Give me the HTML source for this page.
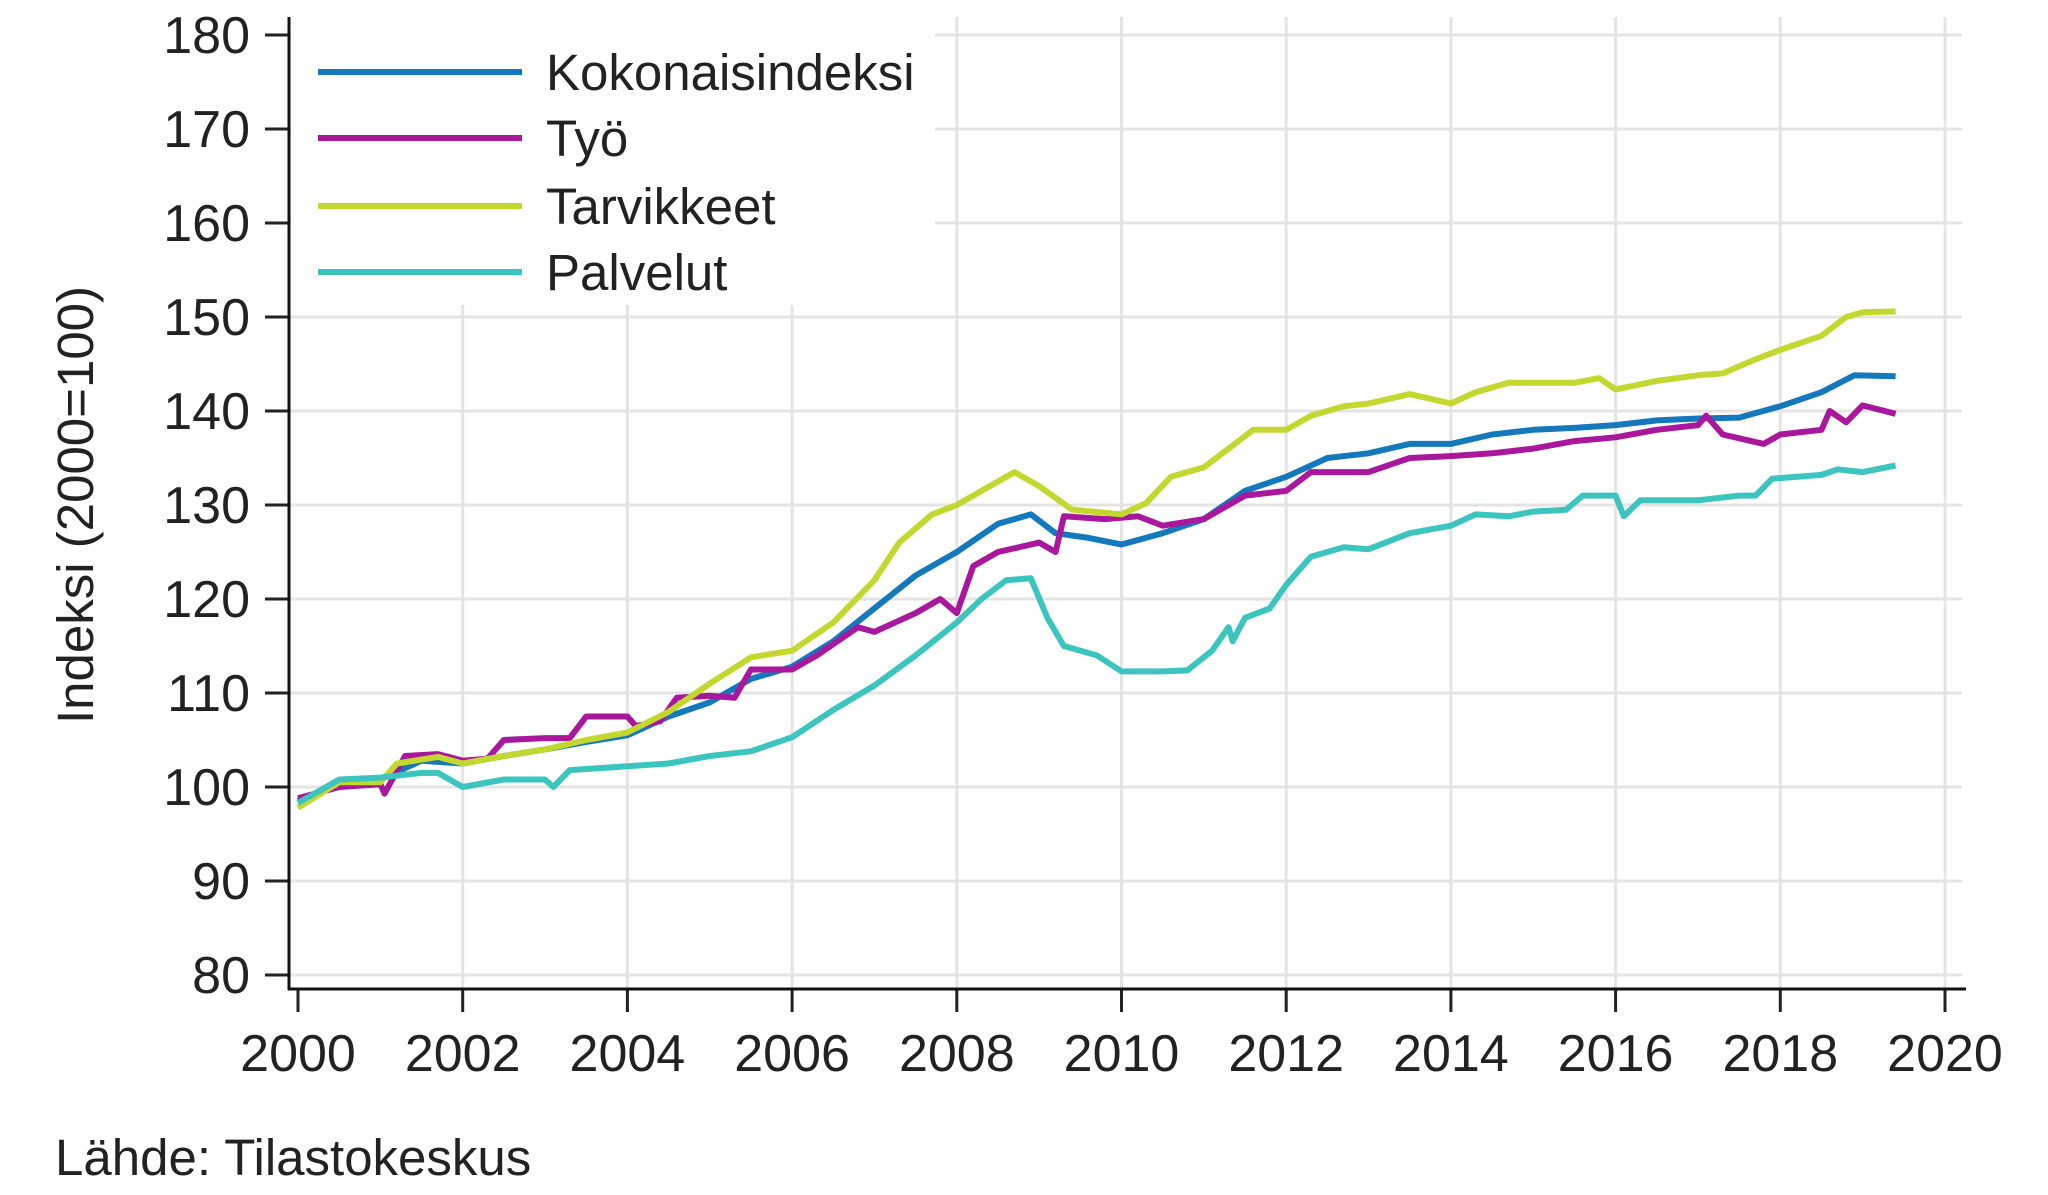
<!DOCTYPE html>
<html><head><meta charset="utf-8"><style>
html,body{margin:0;padding:0;background:#fff;}
svg{display:block;font-family:"Liberation Sans",sans-serif;}
</style></head><body>
<svg id="chart" width="2048" height="1195" viewBox="0 0 2048 1195">
<g id="grid"></g>
<g id="series"></g>
<g id="axes"></g>
<g id="legend"></g>
<text x="0" y="0" transform="translate(93,505) rotate(-90)" text-anchor="middle" font-size="51" fill="#222">Indeksi (2000=100)</text>
<text x="55" y="1175" font-size="51" fill="#222">Lähde: Tilastokeskus</text>
</svg>
<script>
const yTicks=[80,90,100,110,120,130,140,150,160,170,180];
const xTicks=[2000,2002,2004,2006,2008,2010,2012,2014,2016,2018,2020];
const seriesNames=["Kokonaisindeksi","Työ","Tarvikkeet","Palvelut"];
const seriesColors=["#1478bd","#a8179c","#c2d82e","#3cc4bf"];
const kokT=[2000,2000.5,2001,2001.5,2002,2002.5,2003,2003.5,2004,2004.5,2005,2005.5,2006,2006.5,2007,2007.5,2008,2008.5,2008.9,2009.2,2009.6,2010,2010.5,2011,2011.5,2012,2012.5,2013,2013.5,2014,2014.5,2015,2015.5,2016,2016.5,2017,2017.5,2018,2018.5,2018.9,2019.4];
const kokV=[98.5,100.3,100.8,102.8,102.5,103.3,104,104.8,105.5,107.5,109,111.5,112.8,115.5,119,122.5,125,128,129,127,126.5,125.8,127,128.5,131.5,133,135,135.5,136.5,136.5,137.5,138,138.2,138.5,139,139.2,139.3,140.5,142,143.8,143.7];
const tyoT=[2000,2000.5,2001,2001.05,2001.3,2001.7,2002,2002.3,2002.5,2003,2003.3,2003.5,2004,2004.1,2004.4,2004.6,2005,2005.3,2005.5,2006,2006.3,2006.8,2007,2007.5,2007.8,2008,2008.2,2008.5,2009,2009.2,2009.3,2009.8,2010.2,2010.5,2011,2011.5,2012,2012.3,2013,2013.5,2014,2014.5,2015,2015.5,2016,2016.5,2017,2017.1,2017.3,2017.8,2018,2018.5,2018.6,2018.8,2019,2019.4];
const tyoV=[98.8,100,100.3,99.3,103.3,103.5,102.8,103,105,105.2,105.2,107.5,107.5,106.5,107,109.5,109.7,109.5,112.5,112.5,114,117,116.5,118.5,120,118.5,123.5,125,126,125,128.8,128.5,128.8,127.8,128.5,131,131.5,133.5,133.5,135,135.2,135.5,136,136.8,137.2,138,138.5,139.5,137.5,136.5,137.5,138,140,138.8,140.6,139.7];
const tarT=[2000,2000.5,2001,2001.2,2001.7,2002,2002.5,2003,2003.5,2004,2004.5,2005,2005.5,2006,2006.5,2007,2007.3,2007.7,2008,2008.3,2008.7,2009,2009.4,2010,2010.3,2010.6,2011,2011.3,2011.6,2012,2012.3,2012.7,2013,2013.5,2014,2014.3,2014.7,2015,2015.5,2015.8,2016,2016.5,2017,2017.3,2017.7,2018,2018.5,2018.8,2019,2019.4];
const tarV=[97.8,100.5,100.5,102.5,103.2,102.5,103.3,104,105,105.8,108,111,113.8,114.5,117.5,122,126,129,130,131.5,133.5,132,129.5,129,130.2,133,134,136,138,138,139.5,140.5,140.8,141.8,140.8,142,143,143,143,143.5,142.3,143.2,143.8,144,145.5,146.5,148,150,150.5,150.6];
const palT=[2000,2000.5,2001,2001.5,2001.7,2002,2002.5,2003,2003.1,2003.3,2004,2004.5,2005,2005.5,2006,2006.5,2007,2007.5,2008,2008.3,2008.6,2008.9,2009.1,2009.3,2009.7,2010,2010.5,2010.8,2011.1,2011.3,2011.35,2011.5,2011.8,2012,2012.3,2012.7,2013,2013.5,2014,2014.3,2014.7,2015,2015.4,2015.6,2016,2016.1,2016.3,2016.7,2017,2017.5,2017.7,2017.9,2018.5,2018.7,2019,2019.4];
const palV=[98.3,100.8,101,101.5,101.5,100,100.8,100.8,100,101.8,102.2,102.5,103.3,103.8,105.3,108.2,110.8,114,117.5,120,122,122.2,118,115,114,112.3,112.3,112.4,114.5,117,115.5,118,119,121.5,124.5,125.5,125.3,127,127.8,129,128.8,129.3,129.5,131,131,128.8,130.5,130.5,130.5,131,131,132.8,133.2,133.8,133.5,134.2];
const allT=[kokT,tyoT,tarT,palT];
const allV=[kokV,tyoV,tarV,palV];

const NS="http://www.w3.org/2000/svg";
const X0=298,X1=1945,Y0=975,Y1=35;
function xs(t){return X0+(t-2000)/(2020-2000)*(X1-X0);}
function ys(v){return Y0-(v-80)/(180-80)*(Y0-Y1);}
function mk(tag,attrs,parent){const e=document.createElementNS(NS,tag);for(const k in attrs)e.setAttribute(k,attrs[k]);parent.appendChild(e);return e;}
const grid=document.getElementById('grid'),axes=document.getElementById('axes'),ser=document.getElementById('series'),leg=document.getElementById('legend');
yTicks.forEach(v=>{
 const l=mk('line',{x1:288,x2:1962,y1:ys(v),y2:ys(v),stroke:'#e4e4e4','stroke-width':3},grid);
 
 
 const tk=mk('line',{x1:265,x2:288,y1:ys(v),y2:ys(v),stroke:'#222','stroke-width':3},axes);
 
 
 const tx=mk('text',{x:250,y:ys(v)+18,'text-anchor':'end','font-size':52,fill:'#222'},axes);
 tx.textContent=v;
 
 
});
xTicks.forEach(t=>{
 if(t>2000){const l=mk('line',{x1:xs(t),x2:xs(t),y1:17,y2:988,stroke:'#e4e4e4','stroke-width':3},grid);
 
 }
 const tk=mk('line',{x1:xs(t),x2:xs(t),y1:988,y2:1012,stroke:'#222','stroke-width':3},axes);
 
 
 const tx=mk('text',{x:xs(t),y:1071,'text-anchor':'middle','font-size':52,fill:'#222'},axes);
 tx.textContent=t;
 
 
});
const ya=mk('line',{x1:289,x2:289,y1:17,y2:990,stroke:'#111','stroke-width':3},axes);


const xa=mk('line',{x1:288,x2:1966,y1:989,y2:989,stroke:'#111','stroke-width':3},axes);


allT.forEach((ts,i)=>{
 const d=ts.map((t,j)=>(j?'L':'M')+xs(t).toFixed(1)+','+ys(allV[i][j]).toFixed(1)).join('');
 const p=mk('path',{d:d,fill:'none',stroke:seriesColors[i],'stroke-width':6,'stroke-linejoin':'round'},ser);
 
 
});
const bg=mk('rect',{x:291,y:17,width:644,height:288,fill:'#fff'},leg);


const ly=[72,138,206,272];
seriesNames.forEach((n,i)=>{
 const l=mk('line',{x1:318,x2:522,y1:ly[i],y2:ly[i],stroke:seriesColors[i],'stroke-width':6},leg);
 
 
 const tx=mk('text',{x:546,y:ly[i]+18,'font-size':51,fill:'#222'},leg);
 tx.textContent=n;
 
 
});
</script>
</body></html>
